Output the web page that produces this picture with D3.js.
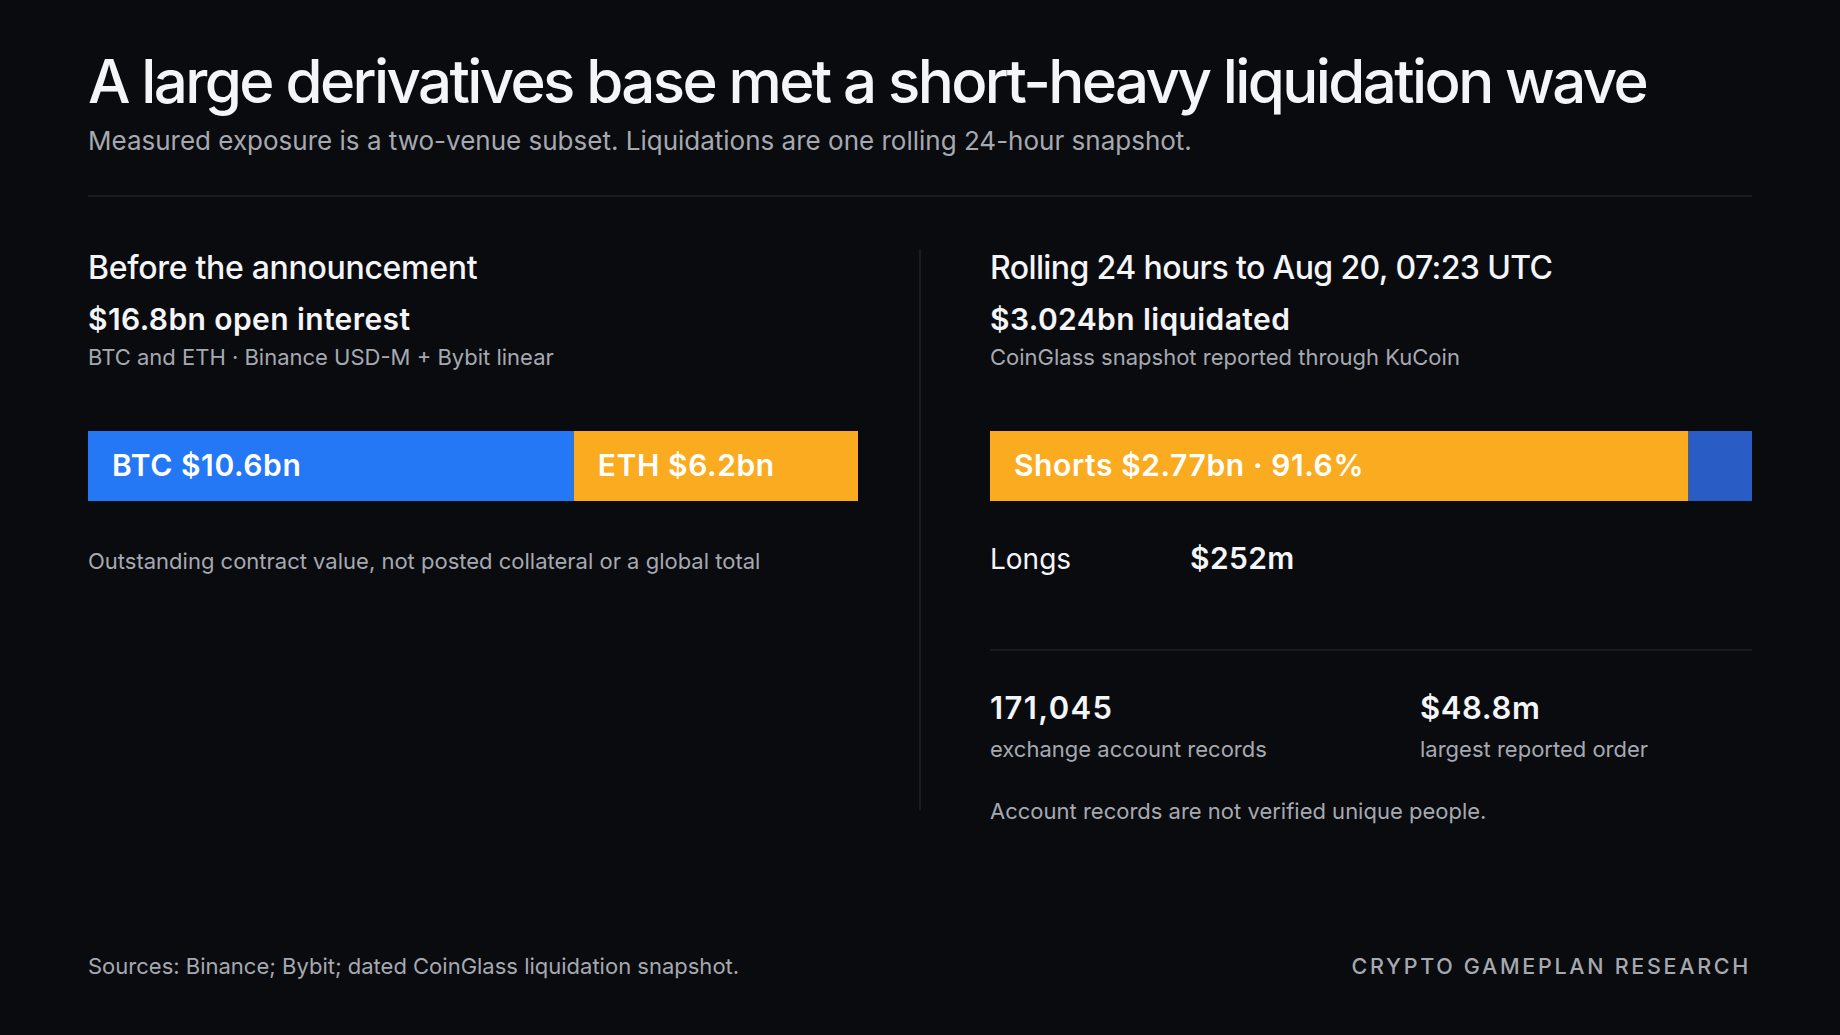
<!DOCTYPE html>
<html><head><meta charset="utf-8">
<script src="https://cdn.jsdelivr.net/npm/d3@7"></script>
<style>html,body{margin:0;background:#0a0b0f;}svg{display:block;font-family:Inter,"Noto Sans",sans-serif;}</style>
</head><body><svg id="c" width="1840" height="1035"></svg>
<script>
const oiLabels = ["BTC $10.6bn", "ETH $6.2bn"];
const oiValues = [10.6, 6.2];
const liqLabels = ["Shorts $2.77bn · 91.6%", ""];
const liqValues = [2.772, 0.252];
const colorsOI = ["#2478f6", "#fbab1f"];
const colorsLiq = ["#fbab1f", "#2a5cc6"];

const svg = d3.select("#c");
svg.append("rect").attr("width",1840).attr("height",1035).attr("fill","#0a0b0f");
const T=(x,y,t,s,c,w,extra)=>{const e=svg.append("text").attr("x",x).attr("y",y).text(t).attr("font-size",s).attr("fill",c).attr("font-weight",w||400);if(extra)extra(e);return e;};
const W="#f4f5f7", G="#a6a9b0";

T(88,103,"A large derivatives base met a short-heavy liquidation wave",60,W,500,e=>e.attr("letter-spacing",-2.6));
T(88,150,"Measured exposure is a two-venue subset. Liquidations are one rolling 24-hour snapshot.",26,G,400);
svg.append("line").attr("x1",88).attr("x2",1752).attr("y1",196).attr("y2",196).attr("stroke","#2a2c33");
svg.append("line").attr("x1",920).attr("x2",920).attr("y1",249).attr("y2",810).attr("stroke","#2a2c33");

T(88,279,"Before the announcement",32,W,500,e=>e.attr("letter-spacing",-0.3));
T(88,330,"$16.8bn open interest",30,W,600,e=>e.attr("letter-spacing",0.4));
T(88,365,"BTC and ETH · Binance USD-M + Bybit linear",22,G,400);

function bar(x0,x1,labels,vals,cols){
  const cum=d3.cumsum(vals); const st=cum.map((c,i)=>c-vals[i]);
  const x=d3.scaleLinear().domain([0,d3.sum(vals)]).range([x0,x1]);
  vals.forEach((v,i)=>{
    svg.append("rect").attr("x",x(st[i])).attr("y",431).attr("width",x(cum[i])-x(st[i])).attr("height",70).attr("fill",cols[i]);
    if(labels[i]) T(x(st[i])+24,476,labels[i],30,"#ffffff",600,e=>e.attr("letter-spacing",0.6));
  });
}
bar(88,858,oiLabels,oiValues,colorsOI);
T(88,569,"Outstanding contract value, not posted collateral or a global total",22,G,400);

T(990,279,"Rolling 24 hours to Aug 20, 07:23 UTC",32,W,500,e=>e.attr("letter-spacing",-0.6));
T(990,330,"$3.024bn liquidated",30,W,600,e=>e.attr("letter-spacing",0.4));
T(990,365,"CoinGlass snapshot reported through KuCoin",22,G,400);
bar(990,1752,liqLabels,liqValues,colorsLiq);
T(990,569,"Longs",28,W,400);
T(1190,569,"$"+Math.round(liqValues[1]*1000)+"m",30,W,600,e=>e.attr("letter-spacing",0.4));
svg.append("line").attr("x1",990).attr("x2",1752).attr("y1",650).attr("y2",650).attr("stroke","#2a2c33");
T(990,719,"171,045",31,W,600,e=>e.attr("letter-spacing",1.4));
T(990,757,"exchange account records",22,G,400);
T(1420,719,"$48.8m",31,W,600,e=>e.attr("letter-spacing",0.6));
T(1420,757,"largest reported order",22,G,400);
T(990,819,"Account records are not verified unique people.",22,G,400);

T(88,974,"Sources: Binance; Bybit; dated CoinGlass liquidation snapshot.",22,G,400);
T(1751,974,"CRYPTO GAMEPLAN RESEARCH",21.5,G,500,e=>e.attr("text-anchor","end").attr("letter-spacing",2.7));
</script></body></html>
